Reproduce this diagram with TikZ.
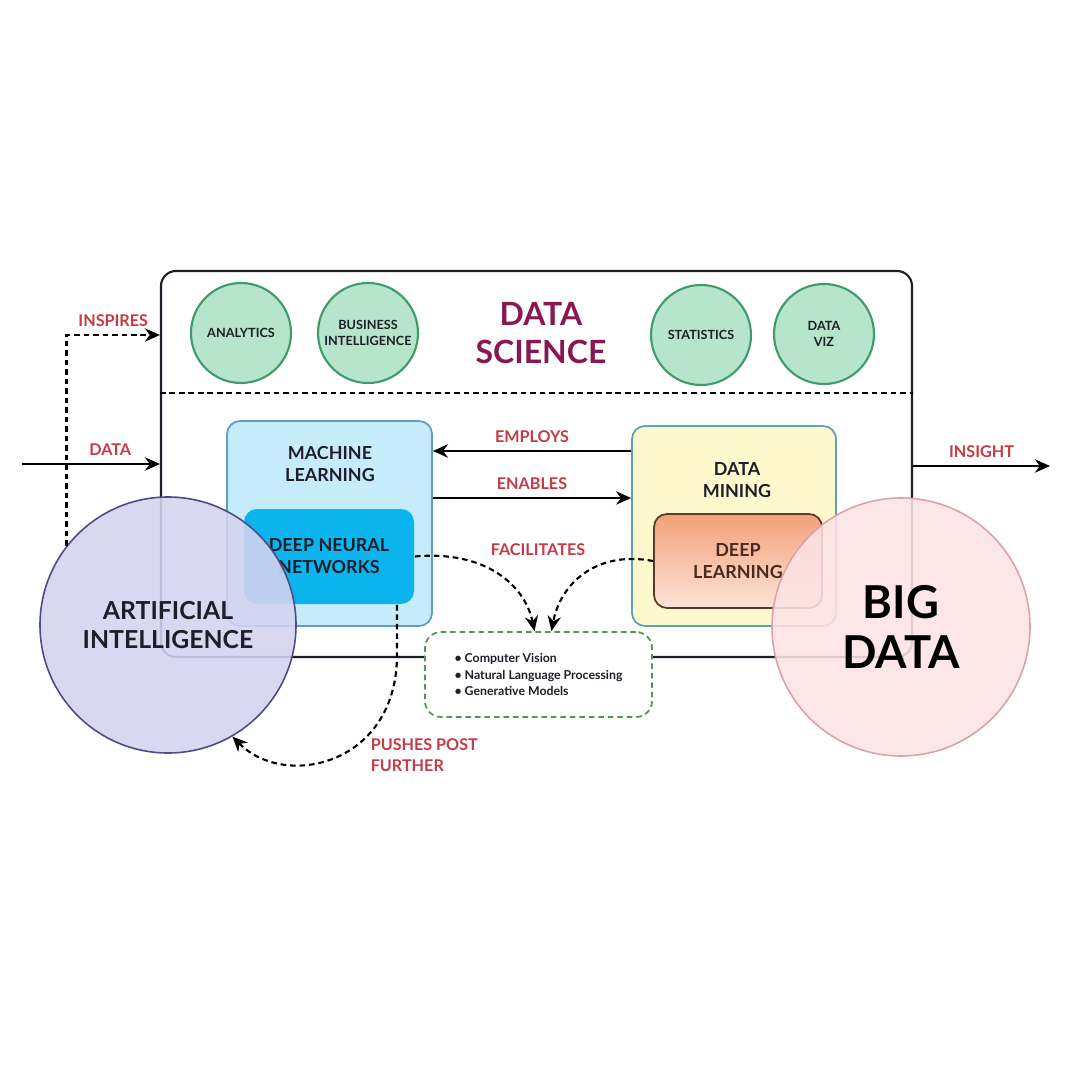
\documentclass[tikz,border=0pt]{standalone}
\usepackage{fontspec}
\setmainfont{Lato}
\usepackage{tikz}
\usetikzlibrary{arrows.meta}
\definecolor{ink}{HTML}{1E1E28}
\definecolor{wine}{HTML}{8A1850}
\definecolor{tomato}{HTML}{C73A45}
\definecolor{mint}{HTML}{B6E5CB}
\definecolor{pine}{HTML}{3F9C69}
\definecolor{sky}{HTML}{C6ECFB}
\definecolor{skyline}{HTML}{5C9FBE}
\definecolor{neon}{HTML}{0BB4EC}
\definecolor{butter}{HTML}{FEF9CD}
\definecolor{umber}{HTML}{5B3A2A}
\definecolor{cocoa}{HTML}{4A2A1E}
\definecolor{peach}{HTML}{F3A079}
\definecolor{blush}{HTML}{FCE4D8}
\definecolor{leaf}{HTML}{4E9A4A}
\definecolor{lavender}{HTML}{D5D3F0}
\definecolor{indigo}{HTML}{4C4B85}
\definecolor{petal}{HTML}{FCE3E5}
\definecolor{rose}{HTML}{DDA2A7}

\begin{document}
\begin{tikzpicture}[>={Stealth[length=4.3pt,width=3.8pt]},line width=0.6pt,
  txt/.style={text=ink,font=\bfseries\fontsize{5.1}{6.3}\selectfont,align=center},
  lbl/.style={text=tomato,font=\bfseries\fontsize{4.6}{5.9}\selectfont,align=center},
  topic/.style={circle,draw=pine,fill=mint,minimum size=1cm,inner sep=0pt,text=ink,
    align=center,font=\bfseries\fontsize{3.6}{4.6}\selectfont},
  panel/.style={rounded corners=0.13cm,line width=0.5pt},
  dashy/.style={dash pattern=on 1.6pt off 1.1pt},
  bigcirc/.style={circle,line width=0.45pt,fill opacity=0.88,text opacity=1,align=center}]
\fill[white] (0,0) rectangle (10.8,-10.8);
\useasboundingbox (0,0) rectangle (10.8,-10.8);

\node[draw=ink,rounded corners=0.15cm,minimum width=7.51cm,minimum height=3.86cm] (ds) at (5.365,-4.64) {};
\draw[dashy] (ds.west |- 0,-3.93) -- (ds.east |- 0,-3.93);
\node[topic] (analytics) at (2.41,-3.33) {ANALYTICS};
\node[topic] (bi) at (3.68,-3.33) {BUSINESS\\INTELLIGENCE};
\node[topic] (stats) at (7.01,-3.35) {STATISTICS};
\node[topic] (viz) at (8.24,-3.34) {DATA\\VIZ};
\node[text=wine,font=\bfseries\fontsize{9.1}{10.8}\selectfont,align=center] (dstitle) at (5.41,-3.33) {DATA\\SCIENCE};

\node[panel,draw=skyline,fill=sky,minimum width=2.05cm,minimum height=2.05cm] (ml) at (3.295,-5.235) {};
\node[txt] (mltext) at (3.30,-4.64) {MACHINE\\LEARNING};
\node[panel,fill=neon,minimum width=1.70cm,minimum height=0.95cm,txt] (dnn) at (3.29,-5.565) {DEEP NEURAL\\NETWORKS};
\node[panel,draw=skyline,fill=butter,minimum width=2.04cm,minimum height=2.0cm] (dm) at (7.34,-5.26) {};
\node[txt] (dmtext) at (7.37,-4.80) {DATA\\MINING};
\node[panel,draw=umber,top color=peach,bottom color=blush,minimum width=1.68cm,minimum height=0.94cm,txt,text=cocoa] (dl) at (7.38,-5.61) {DEEP\\LEARNING};

\draw[->] (dm.west |- 0,-4.51) -- (ml.east |- 0,-4.51) node[lbl,midway,above=-1.2pt]{EMPLOYS};
\draw[->] (ml.east |- 0,-4.98) -- (dm.west |- 0,-4.98) node[lbl,midway,above=-1.2pt]{ENABLES};
\node[lbl] (fac) at (5.38,-5.50) {FACILITATES};

\node[panel,rounded corners=0.16cm,draw=leaf,dashy,fill=white,minimum width=2.27cm,minimum height=0.85cm,align=left,
  text=ink,font=\bfseries\fontsize{3.5}{4.6}\selectfont] (apps) at (5.385,-6.745)
  {\textbullet\ Computer Vision\\\textbullet\ Natural Language Processing\\\textbullet\ Generative Models};
\draw[dashy,->] (dnn.east) .. controls (4.85,-5.5) and (5.25,-5.85) .. ([xshift=-0.04cm]apps.north);
\draw[dashy,->] (dl.west) .. controls (5.95,-5.5) and (5.6,-5.85) .. ([xshift=0.13cm]apps.north);

\node[bigcirc,draw=indigo,fill=lavender,minimum size=2.56cm,text=ink,font=\bfseries\fontsize{7.05}{8.1}\selectfont] (ai) at (1.68,-6.25) {ARTIFICIAL\\INTELLIGENCE};
\node[bigcirc,draw=rose,fill=petal,minimum size=2.58cm,text=black,font=\bfseries\fontsize{12.9}{14.2}\selectfont] (bd) at (9.01,-6.27) {BIG\\DATA};

\draw[dashy,->] (ai.142) |- (ds.west |- 0,-3.35) node[lbl,pos=0.75,above=-1.2pt]{INSPIRES};
\coordinate (src) at (0.22,-4.64);
\draw[->] (src) -- (src -| ds.west) node[lbl,pos=0.64,above=-1.2pt]{DATA};
\coordinate (sink) at (10.5,-4.66);
\draw[->] (sink -| ds.east) -- (sink) node[lbl,midway,above=-1.2pt]{INSIGHT};
\draw[dashy,->] ([xshift=0.68cm]dnn.south) -- ++(0,-0.5) .. controls +(0,-1.1) and (2.85,-7.9) .. (ai.-60);
\node[lbl,anchor=west,align=left] (push) at (3.58,-7.555) {PUSHES POST\\FURTHER};
\end{tikzpicture}
\end{document}
